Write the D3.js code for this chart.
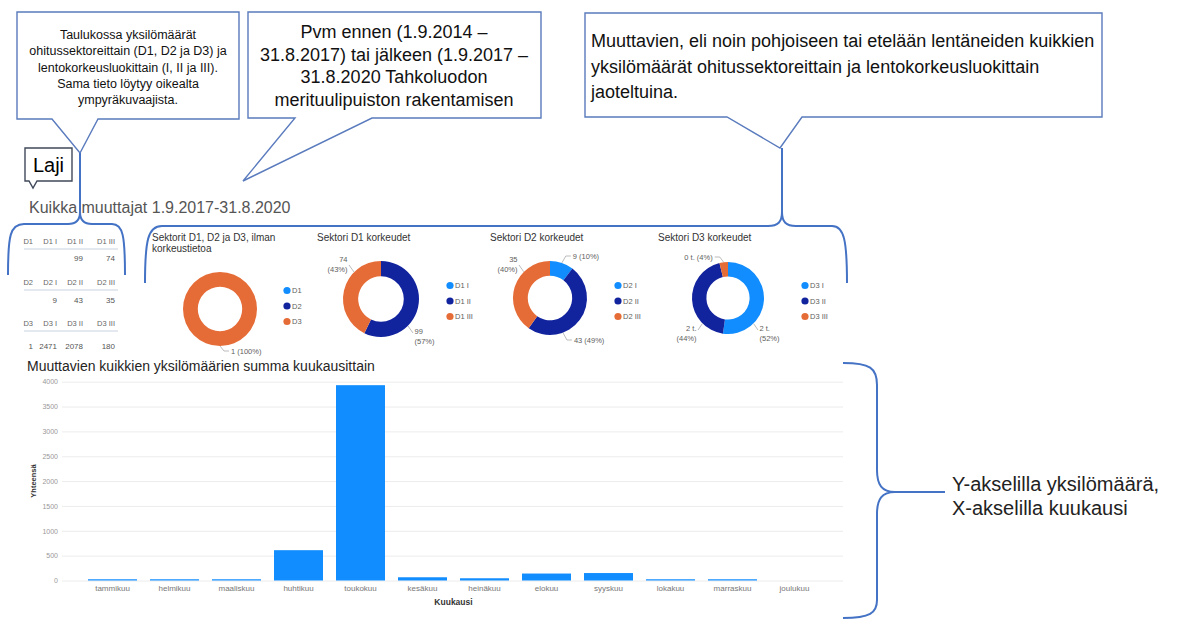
<!DOCTYPE html>
<html>
<head>
<meta charset="utf-8">
<script src="https://cdn.jsdelivr.net/npm/d3@7"></script>
<style>
  body { margin: 0; background: #fff; }
  svg text { font-family: "Liberation Sans", Arial, sans-serif; }
</style>
</head>
<body>
<div id="chart"></div>
<script>
// ---- data ----
var months = ["tammikuu", "helmikuu", "maaliskuu", "huhtikuu", "toukokuu", "kesäkuu",
              "heinäkuu", "elokuu", "syyskuu", "lokakuu", "marraskuu", "joulukuu"];
var monthTotals = [25, 25, 25, 610, 3930, 65, 45, 140, 150, 25, 25, 0];
var yTicks = [0, 500, 1000, 1500, 2000, 2500, 3000, 3500, 4000];

var sectors = ["D1", "D2", "D3"];
var heightClasses = ["I", "II", "III"];
// columns: no height info, I, II, III
var d1Counts = [null, null, 99, 74];
var d2Counts = [null, 9, 43, 35];
var d3Counts = [1, 2471, 2078, 180];

var donutTitles = [["Sektorit D1, D2 ja D3, ilman", "korkeustietoa"],
                   ["Sektori D1 korkeudet"], ["Sektori D2 korkeudet"], ["Sektori D3 korkeudet"]];
var sliceColors = ["#118DFF", "#12239E", "#E66C37"];

var calloutLeft = ["Taulukossa yksilömäärät", "ohitussektoreittain (D1, D2 ja D3) ja",
                   "lentokorkeusluokittain (I, II ja III).", "Sama tieto löytyy oikealta", "ympyräkuvaajista."];
var calloutMid = ["Pvm ennen (1.9.2014 –", "31.8.2017) tai jälkeen (1.9.2017 –",
                  "31.8.2020 Tahkoluodon", "merituulipuiston rakentamisen"];
var calloutRight = ["Muuttavien, eli noin pohjoiseen tai etelään lentäneiden kuikkien",
                    "yksilömäärät ohitussektoreittain ja lentokorkeusluokittain", "jaoteltuina."];
var axisNote = ["Y-akselilla yksilömäärä,", "X-akselilla kuukausi"];

var width = 1184, height = 621;
var noteBlue = "#4472C4";

var svg = d3.select("#chart")
            .append("svg")
            .attr("width", width)
            .attr("height", height);

svg.append("rect").attr("width", width).attr("height", height).attr("fill", "#fff");

//Callout boxes (box with a pointer at the bottom edge)
function callout(x0, y0, x1, y1, b1, b2, tx, ty, stroke) {
  svg.append("path")
     .attr("d", "M" + x0 + "," + y0 + "H" + x1 + "V" + y1 + "H" + b2 + "L" + tx + "," + ty +
                "L" + b1 + "," + y1 + "H" + x0 + "Z")
     .attr("fill", "#fff")
     .attr("stroke", stroke)
     .attr("stroke-width", 1.4);
}

callout(17, 12, 239, 119, 52, 98, 80, 153, "#5a7bbd");
callout(248, 12, 541, 118, 295, 372, 243, 181, "#5a7bbd");
callout(585, 13, 1102, 117, 727, 802, 780, 148, "#5a7bbd");

calloutLeft.forEach(function(t, i) {
  svg.append("text").attr("x", 128).attr("y", 39 + i * 16.3)
     .attr("text-anchor", "middle").style("font-size", "12.5px").attr("fill", "#111").text(t);
});
calloutMid.forEach(function(t, i) {
  svg.append("text").attr("x", 394).attr("y", 38 + i * 22.7)
     .attr("text-anchor", "middle").style("font-size", "18px").attr("fill", "#111").text(t);
});
calloutRight.forEach(function(t, i) {
  svg.append("text").attr("x", 591).attr("y", 47 + i * 25.7)
     .style("font-size", "18px").attr("fill", "#111").text(t);
});

//Laji label
callout(25, 148, 72, 181, 29, 37, 33, 188, "#404a5a");
svg.append("text").attr("x", 48.5).attr("y", 172).attr("text-anchor", "middle")
   .style("font-size", "20px").attr("fill", "#000").text("Laji");

//Report title
svg.append("text").attr("x", 29).attr("y", 213)
   .style("font-size", "16px").attr("fill", "#555")
   .text("Kuikka muuttajat 1.9.2017-31.8.2020");

//Braces
var braces = [
  "M8,275 C8,236 10,224 24,224 L68,224 C76,224 80,220 80,212 L80,153 M80,212 C80,220 84,224 92,224 L112,224 C123,224 125,236 125,275",
  "M145,283 C145,240 148,226 162,226 L768,226 C778,226 782,222 782,212 L782,148 M782,212 C782,222 786,226 796,226 L832,226 C844,226 847,240 847,283",
  "M843,363 C870,363 877,368 877,385 L877,470 C877,485 882,492 895,492 C882,492 877,499 877,514 L877,600 C877,613 870,618 843,618 M895,492 L945,492"
];
svg.selectAll("path.brace")
   .data(braces)
   .enter().append("path")
   .attr("class", "brace")
   .attr("d", function(d) { return d; })
   .attr("fill", "none")
   .attr("stroke", noteBlue)
   .attr("stroke-width", 2);

axisNote.forEach(function(t, i) {
  svg.append("text").attr("x", 952).attr("y", 491 + i * 24)
     .style("font-size", "20px").attr("fill", "#222").text(t);
});

//Tables
var tables = [d1Counts, d2Counts, d3Counts];
var tableHeadY = [241, 282, 323];
var tableValY = [258, 300, 346];
var colRight = [33, 57, 83, 115];

tables.forEach(function(row, ti) {
  var heads = [sectors[ti]].concat(heightClasses.map(function(h) { return sectors[ti] + " " + h; }));
  var g = svg.append("g");
  g.selectAll("text.head").data(heads).enter().append("text")
   .attr("x", function(d, i) { return colRight[i]; })
   .attr("y", tableHeadY[ti] + 3)
   .attr("text-anchor", "end")
   .style("font-size", "7.5px").attr("fill", "#666")
   .text(function(d) { return d; });
  g.append("line").attr("x1", 24).attr("x2", 118)
   .attr("y1", tableHeadY[ti] + 8).attr("y2", tableHeadY[ti] + 8)
   .attr("stroke", "#c9d3e0").attr("stroke-width", 1);
  g.selectAll("text.val").data(row).enter().append("text")
   .attr("x", function(d, i) { return colRight[i]; })
   .attr("y", tableValY[ti] + 3)
   .attr("text-anchor", "end")
   .style("font-size", "8px").attr("fill", "#555")
   .text(function(d) { return d == null ? "" : d; });
});

//Donuts
var panels = [
  {tx: 152, cx: 220, cy: 309, R: 37, lx: 287, ly: 306},
  {tx: 317, cx: 381, cy: 299, R: 38, lx: 450, ly: 301},
  {tx: 490, cx: 550, cy: 298, R: 37, lx: 618, ly: 301},
  {tx: 658, cx: 728, cy: 298, R: 36, lx: 805, ly: 301}
];

function drawDonut(p, title, names, values) {
  var g = svg.append("g");
  title.forEach(function(t, i) {
    g.append("text").attr("x", p.tx).attr("y", 241 + i * 11)
     .style("font-size", "10px").attr("fill", "#333").text(t);
  });

  var total = d3.sum(values, function(v) { return v || 0; });
  var maxV = d3.max(values, function(v) { return v || 0; });
  var fmt = function(v) { return maxV >= 1000 ? Math.round(v / 1000) + " t." : String(v); };

  var pie = d3.pie().sort(null).value(function(d) { return d.value; });
  var arcs = pie(names.map(function(n, i) { return {name: n, value: values[i] || 0, color: sliceColors[i]}; }));
  var arc = d3.arc().innerRadius(p.R * 0.6).outerRadius(p.R);

  g.selectAll("path.slice").data(arcs).enter().append("path")
   .attr("transform", "translate(" + p.cx + "," + p.cy + ")")
   .attr("d", arc)
   .attr("fill", function(d) { return d.data.color; });

  arcs.filter(function(d) { return d.data.value > 0; }).forEach(function(d) {
    var mid = (d.startAngle + d.endAngle) / 2;
    var sx = Math.sin(mid), sy = -Math.cos(mid);
    var side = sx >= -0.001 ? 1 : -1;
    var vert = sy < 0 ? -1 : 1;
    var anchor = side > 0 ? "start" : "end";
    var valTxt = fmt(d.data.value);
    var pctTxt = "(" + Math.round(d.data.value / total * 100) + "%)";
    if (Math.abs(sx) > 0.9) {
      // near-horizontal slices: two-line label at the donut corner
      var px = p.cx + side * p.R * 0.71, py = p.cy + vert * p.R * 0.71;
      var ex = p.cx + side * (p.R - 6), ey = p.cy + vert * (p.R - 4);
      g.append("path").attr("d", "M" + px + "," + py + "L" + ex + "," + ey)
       .attr("stroke", "#aaa").attr("stroke-width", 0.8).attr("fill", "none");
      var b1 = vert < 0 ? p.cy - p.R + 1 : p.cy + p.R - 3;
      [valTxt, pctTxt].forEach(function(t, i) {
        g.append("text").attr("x", ex + side * 1.5).attr("y", b1 + i * 9.5)
         .attr("text-anchor", anchor)
         .style("font-size", "7.5px").attr("fill", "#605E5C").text(t);
      });
    } else {
      // one-line label above / below the ring
      var ax = Math.max(-0.35, Math.min(0.35, sx));
      var qx = p.cx + p.R * ax, qy = p.cy + vert * p.R * Math.sqrt(1 - ax * ax);
      var ly = p.cy + vert * (p.R + 5);
      var mx = qx + side * 4, hx = mx + side * 5;
      g.append("path").attr("d", "M" + qx + "," + qy + "L" + mx + "," + ly + "L" + hx + "," + ly)
       .attr("stroke", "#aaa").attr("stroke-width", 0.8).attr("fill", "none");
      g.append("text").attr("x", hx + side * 2).attr("y", ly + 2.7)
       .attr("text-anchor", anchor)
       .style("font-size", "7.5px").attr("fill", "#605E5C").text(valTxt + " " + pctTxt);
    }
  });

  // legend
  var leg = g.selectAll("g.leg").data(names).enter().append("g")
             .attr("transform", function(d, i) { return "translate(" + p.lx + "," + (p.ly + (i - 1) * 15.5) + ")"; });
  leg.append("circle").attr("r", 3.6).attr("fill", function(d, i) { return sliceColors[i]; });
  leg.append("text").attr("x", 5).attr("y", 2.8)
     .style("font-size", "7.5px").attr("fill", "#605E5C")
     .text(function(d) { return d; });
}

drawDonut(panels[0], donutTitles[0], sectors, tables.map(function(r) { return r[0]; }));
tables.forEach(function(row, i) {
  drawDonut(panels[i + 1], donutTitles[i + 1],
            heightClasses.map(function(h) { return sectors[i] + " " + h; }),
            row.slice(1));
});

//Bar chart
svg.append("text").attr("x", 27).attr("y", 371)
   .style("font-size", "14px").attr("fill", "#252423")
   .text("Muuttavien kuikkien yksilömäärien summa kuukausittain");

var xScale = d3.scaleBand()
               .domain(months)
               .range([81.5, 825.5])
               .paddingInner(0.21)
               .paddingOuter(0.105);

var yScale = d3.scaleLinear()
               .domain([0, 4000])
               .range([580.5, 381.7]);

var yAxis = d3.axisLeft(yScale)
              .tickValues(yTicks)
              .tickFormat(d3.format("d"))
              .tickSize(-(843 - 62))
              .tickPadding(4);

svg.append("g")
   .attr("transform", "translate(62,0)")
   .call(yAxis)
   .call(function(g) { g.select(".domain").remove(); })
   .call(function(g) { g.selectAll("line").attr("stroke", "#ececec"); })
   .call(function(g) { g.selectAll("text").attr("fill", "#999").style("font-size", "7px"); });

svg.selectAll("rect.bar")
   .data(monthTotals)
   .enter().append("rect")
   .attr("class", "bar")
   .attr("x", function(d, i) { return xScale(months[i]); })
   .attr("y", function(d) { return yScale(d); })
   .attr("width", xScale.bandwidth())
   .attr("height", function(d) { return yScale(0) - yScale(d); })
   .attr("fill", "#118DFF");

var xAxis = d3.axisBottom(xScale).tickSize(0).tickPadding(5);
svg.append("g")
   .attr("transform", "translate(0,580.5)")
   .call(xAxis)
   .call(function(g) { g.select(".domain").remove(); })
   .call(function(g) { g.selectAll("text").attr("fill", "#777").style("font-size", "8px"); });

svg.append("text").attr("x", 453.5).attr("y", 605)
   .attr("text-anchor", "middle").style("font-size", "8.5px").style("font-weight", "bold")
   .attr("fill", "#333").text("Kuukausi");

svg.append("text")
   .attr("transform", "translate(36,481) rotate(270)")
   .attr("text-anchor", "middle").style("font-size", "7.5px").style("font-weight", "bold")
   .attr("fill", "#333").text("Yhteensä");
</script>
</body>
</html>
